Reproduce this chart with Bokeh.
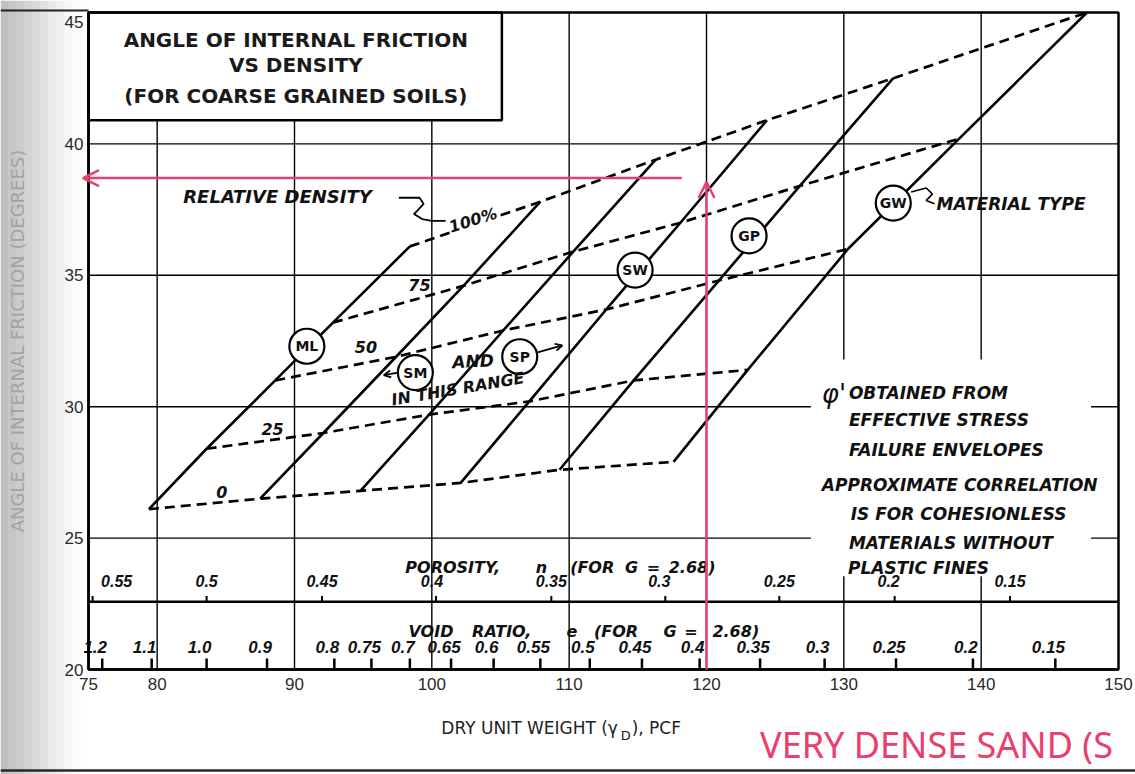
from bokeh.plotting import figure
from bokeh.models import Label, Arrow, OpenHead, FixedTicker, Range1d, LinearAxis
from bokeh.core.properties import value
from bokeh.embed import file_html
from bokeh.resources import INLINE

# ---------------- values ----------------
relative_density = [0, 25, 50, 75, 100]
# dry unit weight (pcf) / friction angle (deg) of each material line at Dr = 0, 25, 50, 75, 100 %
line1_x = [79.4, 83.6, 88.6, 92.8, 98.4]
line1_y = [26.1, 28.4, 31.0, 33.2, 36.1]
line2_x = [87.5, 92.1, 97.4, 102.3, 107.9]
line2_y = [26.5, 29.0, 31.9, 34.6, 37.8]
line3_x = [94.8, 99.8, 105.2, 110.3, 116.3]
line3_y = [26.8, 29.7, 32.9, 35.9, 39.4]
line4_x = [102.1, 107.1, 112.7, 118.1, 124.4]
line4_y = [27.1, 30.2, 33.7, 37.0, 40.9]
line5_x = [109.3, 114.7, 120.9, 126.8, 133.6]
line5_y = [27.6, 31.0, 34.8, 38.4, 42.5]
line6_x = [117.6, 123.0, 130.3, 138.4, 147.7]
line6_y = [27.9, 31.4, 36.0, 40.2, 45.0]

material_labels = ["ML", "SM", "SP", "SW", "GP", "GW"]
material_label_x = [90.9, 98.8, 106.4, 114.8, 123.1, 133.6]
material_label_y = [32.3, 31.3, 31.9, 35.2, 36.5, 37.75]

porosity_labels = ["0.55", "0.5", "0.45", "0.4", "0.35", "0.3", "0.25", "0.2", "0.15"]
porosity_x = [75.3, 83.6, 92.0, 100.3, 108.7, 117.0, 125.3, 133.7, 142.1]
void_labels = ["1.2", "1.1", "1.0", "0.9", "0.8", "0.75", "0.7", "0.65", "0.6",
               "0.55", "0.5", "0.45", "0.4", "0.35", "0.3", "0.25", "0.2", "0.15"]
void_x = [76.0, 79.6, 83.6, 88.0, 92.9, 95.6, 98.4, 101.4, 104.5,
          107.9, 111.5, 115.3, 119.5, 123.9, 128.6, 133.8, 139.4, 145.4]

x_ticks = [75, 80, 90, 100, 110, 120, 130, 140, 150]
y_ticks = [20, 25, 30, 35, 40, 45]
x_grid = [80, 90, 100, 110, 120, 130, 140]
y_grid = [25, 30, 35, 40]

porosity_axis_y = 22.58
example_density = 120.0
example_phi = 38.7

# ---------------- layout ----------------
RED = "#e8406e"
ITAL = value("DejaVu Sans")
NUMF = value("Liberation Sans")
FW, FH = 1135, 774
LEFT, TOP, CW, CH = 88, 12, 1030, 657   # chart box position in the page
XPX, YPX = CW / 75.0, CH / 25.0
X0 = 75 - LEFT / XPX
X1 = 150 + (FW - LEFT - CW) / XPX
Y1 = 45 + TOP / YPX
Y0 = 20 - (FH - TOP - CH) / YPX

p = figure(frame_width=FW, frame_height=FH,
           x_range=Range1d(X0, X1), y_range=Range1d(Y0, Y1),
           x_axis_type=None, y_axis_type=None,
           output_backend="svg", toolbar_location=None,
           min_border=0, background_fill_color="white", border_fill_color="white")
p.outline_line_color = None
p.xgrid.visible = False
p.ygrid.visible = False

# scan shadow on the left edge and page edges
shade_alpha = [0.44, 0.40, 0.36, 0.31, 0.26, 0.20, 0.15, 0.10, 0.06, 0.03]
shade_left = [X0 + i * 8 / XPX for i in range(len(shade_alpha))]
shade_right = [X0 + (i + 1) * 8 / XPX for i in range(len(shade_alpha))]
p.quad(left=shade_left, right=shade_right, bottom=Y0, top=Y1,
       fill_color="#707070", fill_alpha=shade_alpha, line_color=None)
p.line(x=[X0, 75], y=[45 + 2 / YPX, 45 + 2 / YPX], line_color="#222222", line_width=2)
p.line(x=[X0, X1], y=[20 - 101 / YPX, 20 - 101 / YPX], line_color="#2a2a2a", line_width=2.5)

# grid
p.segment(x0=x_grid, y0=[20] * len(x_grid), x1=x_grid, y1=[45] * len(x_grid),
          line_color="black", line_width=1.4)
p.segment(x0=[75] * len(y_grid), y0=y_grid, x1=[150] * len(y_grid), y1=y_grid,
          line_color="black", line_width=1.4)

# axes (Bokeh axes fixed at the chart edges)
xax = LinearAxis(fixed_location=20, bounds=(75, 150), ticker=FixedTicker(ticks=x_ticks))
yax = LinearAxis(fixed_location=75, bounds=(20, 45), ticker=FixedTicker(ticks=y_ticks))
for ax in (xax, yax):
    ax.axis_line_width = 2.5
    ax.axis_line_color = "black"
    ax.major_tick_in = 0
    ax.major_tick_out = 0
    ax.minor_tick_in = 0
    ax.minor_tick_out = 0
    ax.major_label_text_font = "Liberation Sans"
    ax.major_label_text_font_size = "17px"
    ax.major_label_text_color = "#2a2a2a"
xax.major_label_standoff = 8
yax.major_label_standoff = 5
yax.major_label_overrides = {45: ""}
yax.axis_label = "ANGLE OF INTERNAL FRICTION (DEGREES)"
yax.axis_label_text_font = "DejaVu Sans"
yax.axis_label_text_font_style = "normal"
yax.axis_label_text_font_size = "18px"
yax.axis_label_text_color = "#a3a3a3"
yax.axis_label_standoff = 34
p.add_layout(xax, "below")
p.add_layout(yax, "left")
p.text(x=[75 - 5 / XPX], y=[45 - 9 / YPX], text=["45"], text_align="right",
       text_baseline="middle", text_font=NUMF, text_font_size="17px", text_color="#2a2a2a")

# white areas that interrupt the grid
p.quad(left=[75], right=[105.1], bottom=[40.9], top=[45],
       fill_color="white", line_color="black", line_width=2.5)
p.quad(left=[127.6], right=[148.0], bottom=[23.55], top=[31.8],
       fill_color="white", line_color=None)

p.text(x=[90.1, 90.1, 90.1], y=[43.96, 42.99, 41.83],
       text=["ANGLE OF INTERNAL FRICTION", "VS DENSITY", "(FOR COARSE GRAINED SOILS)"],
       text_align="center", text_baseline="middle", text_font=ITAL,
       text_font_style="bold", text_font_size="20px", text_color="#1a1a1a")

# porosity / void ratio scales
p.line(x=[75, 150], y=[porosity_axis_y, porosity_axis_y], line_color="black", line_width=2.5)
p.segment(x0=porosity_x, y0=[porosity_axis_y] * len(porosity_x),
          x1=porosity_x, y1=[porosity_axis_y + 0.22] * len(porosity_x),
          line_color="black", line_width=2)
p.segment(x0=void_x, y0=[20] * len(void_x), x1=void_x, y1=[20.42] * len(void_x),
          line_color="black", line_width=2.5)
p.text(x=porosity_x, y=[23.36] * len(porosity_x), text=porosity_labels,
       x_offset=[24, 0, 0, -4, 0, -6, 0, -6, 0],
       text_align="center", text_baseline="middle", text_font=NUMF,
       text_font_style="bold italic", text_font_size="16px", text_color="#111111")
p.text(x=void_x, y=[20.86] * len(void_x), text=void_labels, x_offset=-7,
       text_align="center", text_baseline="middle", text_font=NUMF,
       text_font_style="bold italic", text_font_size="17px", text_color="#111111")

por_words = ["POROSITY,", "n", "(FOR", "G", "=", "2.68)"]
por_word_x = [98.07, 107.57, 110.07, 114.06, 115.65, 117.25]
void_words = ["VOID", "RATIO,", "e", "(FOR", "G", "=", "2.68)"]
void_word_x = [98.3, 102.93, 109.8, 111.8, 116.86, 118.38, 120.43]
p.text(x=por_word_x, y=[23.87] * len(por_words), text=por_words,
       text_align="left", text_baseline="middle", text_font=ITAL,
       text_font_style="bold italic", text_font_size="16px", text_color="#111111")
p.text(x=void_word_x, y=[21.45] * len(void_words), text=void_words,
       text_align="left", text_baseline="middle", text_font=ITAL,
       text_font_style="bold italic", text_font_size="16px", text_color="#111111")

# material lines (solid) and relative-density lines (dashed)
lines_x = [line1_x, line2_x, line3_x, line4_x, line5_x, line6_x]
lines_y = [line1_y, line2_y, line3_y, line4_y, line5_y, line6_y]
dr_x = [[lx[i] for lx in lines_x] for i in range(len(relative_density))]
dr_y = [[ly[i] for ly in lines_y] for i in range(len(relative_density))]
p.multi_line(xs=dr_x, ys=dr_y, line_color="black", line_width=2.7, line_dash="10 6")
p.multi_line(xs=lines_x, ys=lines_y, line_color="black", line_width=2.6)

# chart border
p.quad(left=[75], right=[150], bottom=[20], top=[45], fill_color=None,
       line_color="black", line_width=2.5)

# leaders
p.line(x=[97.6, 99.1, 99.4, 99.0, 98.7, 99.3, 100.0, 101.0],
       y=[37.95, 37.95, 37.72, 37.49, 37.33, 37.14, 37.07, 37.07],
       line_color="black", line_width=1.8)
p.line(x=[134.9, 136.0, 136.45, 136.0, 136.6],
       y=[38.17, 38.32, 38.09, 37.85, 37.72],
       line_color="black", line_width=1.6)

# material circles
p.scatter(x=material_label_x, y=material_label_y, size=35, marker="circle",
          fill_color="white", line_color="black", line_width=2.2)
p.text(x=material_label_x, y=material_label_y, text=material_labels,
       text_align="center", text_baseline="middle", text_font=ITAL,
       text_font_style="bold", text_font_size="14px", text_color="#111111")

# small arrows from SM / SP circles
p.add_layout(Arrow(x_start=97.55, y_start=31.3, x_end=96.5, y_end=31.2,
                   line_width=1.8, end=OpenHead(size=7, line_width=1.8)))
p.add_layout(Arrow(x_start=107.7, y_start=32.07, x_end=109.5, y_end=32.33,
                   line_width=1.8, end=OpenHead(size=7, line_width=1.8)))

# labels on the chart
def lab(txt, x, y, size="17px", align="left", angle=0.0, bg=None, style="bold italic",
        font="DejaVu Sans", color="#111111"):
    p.add_layout(Label(x=x, y=y, text=txt, text_font=font, text_font_style=style,
                       text_font_size=size, text_align=align, text_baseline="middle",
                       angle=angle, text_color=color,
                       background_fill_color=bg, background_fill_alpha=1.0 if bg else 0.0))

lab("RELATIVE DENSITY", 81.9, 38.0, size="18px")
lab("MATERIAL TYPE", 136.75, 37.72)
lab("0", 84.7, 26.76, size="16px", align="center")
lab("25", 88.4, 29.16, size="16px", align="center")
lab("50", 95.2, 32.29, size="16px", align="center")
lab("75", 99.1, 34.62, size="16px", align="center")
lab("100%", 103.0, 37.1, size="16px", align="center", angle=0.3, bg="white")
lab("AND", 103.0, 31.73, size="17px", align="center", angle=0.05)
lab("IN THIS RANGE", 101.9, 30.68, size="16px", align="center", angle=0.17)

lab("\u03c6'", 128.4, 30.5, size="26px", style="italic")
block = [("OBTAINED FROM", 130.37, 30.53), ("EFFECTIVE STRESS", 130.37, 29.50),
         ("FAILURE ENVELOPES", 130.37, 28.36), ("APPROXIMATE CORRELATION", 128.4, 27.02),
         ("IS FOR COHESIONLESS", 130.5, 25.92), ("MATERIALS WITHOUT", 130.37, 24.80),
         ("PLASTIC FINES", 130.3, 23.87)]
for t, x, y in block:
    lab(t, x, y, size="17px")

# x axis title (with subscript)
lab("DRY UNIT WEIGHT (\u03b3", 113.55, 17.79, size="17px", align="right", style="normal",
    color="#222222")
lab("D", 113.75, 17.48, size="13px", style="normal", color="#222222")
lab("), PCF", 114.55, 17.79, size="17px", style="normal", color="#222222")

# red reading annotation
p.add_layout(Arrow(x_start=example_density, y_start=20, x_end=example_density, y_end=example_phi - 0.15,
                   line_color=RED, line_width=2.5,
                   end=OpenHead(size=16, line_color=RED, line_width=2.5)))
p.add_layout(Arrow(x_start=example_density - 1.8, y_start=example_phi, x_end=74.6, y_end=example_phi,
                   line_color=RED, line_width=2.5,
                   end=OpenHead(size=16, line_color=RED, line_width=2.5)))
lab("VERY DENSE SAND (S", 123.9, 17.15, size="36px", style="normal", font="Noto Sans",
    color=RED)

open("out.html", "w").write(file_html(p, INLINE))
